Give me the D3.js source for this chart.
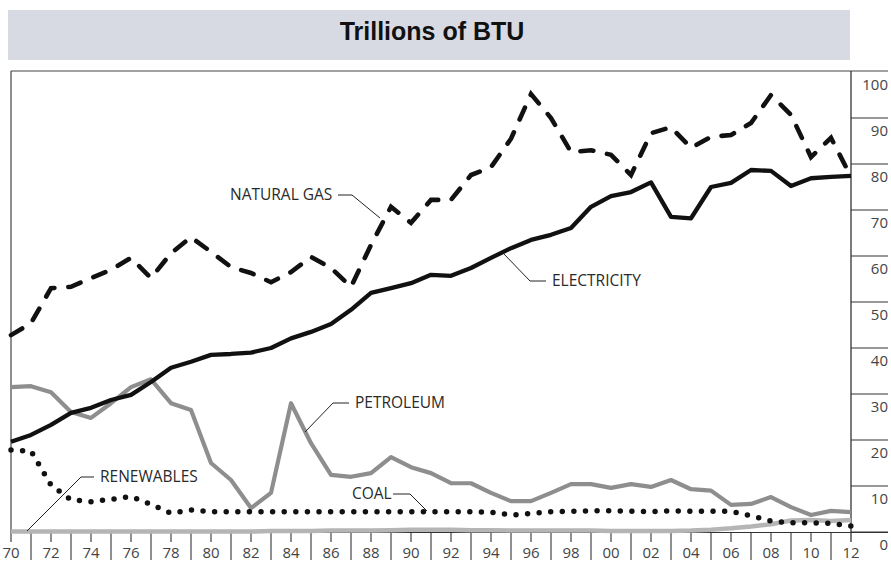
<!DOCTYPE html>
<html>
<head>
<meta charset="utf-8">
<script src="https://cdn.jsdelivr.net/npm/d3@7"></script>
<style>
  html, body { margin: 0; padding: 0; background: #fff; }
  #chart { width: 891px; height: 561px; }
  .tick-label { font-family: "Open Sans", "Noto Sans", sans-serif; font-size: 15px; fill: #444; }
  .series-label { font-family: "Open Sans", "Noto Sans", sans-serif; font-size: 15.5px; fill: #2a2a2a; }
</style>
</head>
<body>
<div id="chart"></div>
<script>
// years on the x axis
const years = d3.range(1970, 2013);
const xTickYears = [1970,1972,1974,1976,1978,1980,1982,1984,1986,1988,1990,
                    1992,1994,1996,1998,2000,2002,2004,2006,2008,2010,2012];
const yTicks = [0,10,20,30,40,50,60,70,80,90,100];

// trillions of BTU
const naturalGas = [42.8,45.4,53.0,53.3,55.2,57.0,59.6,55.2,60.6,64.1,
                    60.9,57.6,56.3,54.3,56.5,59.8,57.4,53.3,62.4,70.7,
                    67.2,72.2,72.2,77.6,79.3,85.5,95.2,90.0,82.6,83.0,
                    82.0,77.6,86.7,88.0,83.5,85.9,86.3,88.9,95.0,90.7,
                    81.5,85.7,77.2];
const electricity = [19.6,21.1,23.3,25.9,27.0,28.7,29.8,32.6,35.7,37.0,
                     38.5,38.7,39.0,40.0,42.1,43.5,45.2,48.3,52.0,53.0,
                     54.1,55.9,55.7,57.4,59.6,61.7,63.5,64.6,66.1,70.7,
                     73.0,73.9,76.0,68.5,68.2,75.0,75.9,78.7,78.5,75.2,
                     76.9,77.2,77.4];
const petroleum = [31.5,31.7,30.4,26.1,24.8,28.0,31.5,33.2,28.0,26.5,
                   15.0,11.3,5.2,8.5,28.0,19.3,12.4,12.0,12.8,16.3,
                   14.1,12.8,10.6,10.6,8.5,6.7,6.7,8.5,10.4,10.4,
                   9.6,10.4,9.8,11.3,9.3,9.0,5.9,6.1,7.6,5.4,
                   3.7,4.6,4.3];
const coal = [17.8,17.6,10.2,7.0,6.6,7.1,7.7,6.0,4.1,4.8,
              4.4,4.4,4.4,4.4,4.4,4.4,4.4,4.4,4.4,4.4,
              4.4,4.4,4.4,4.4,4.3,3.7,4.0,4.4,4.5,4.6,
              4.6,4.5,4.4,4.6,4.5,4.5,4.5,3.5,2.4,2.0,
              2.0,1.9,1.3];
const renewables = [0.1,0.1,0.1,0.1,0.1,0.1,0.1,0.1,0.1,0.1,
                    0.1,0.1,0.1,0.2,0.2,0.2,0.3,0.3,0.3,0.4,
                    0.5,0.5,0.5,0.4,0.4,0.3,0.3,0.3,0.3,0.3,
                    0.2,0.2,0.2,0.2,0.3,0.5,0.8,1.2,1.7,2.5,
                    2.6,2.4,2.6];

const W = 891, H = 561;
const svg = d3.select('#chart').append('svg')
  .attr('width', W).attr('height', H)
  .attr('viewBox', `0 0 ${W} ${H}`);

// title band
svg.append('rect')
  .attr('x', 8).attr('y', 10).attr('width', 842).attr('height', 50)
  .attr('fill', '#d8dae3');
svg.append('text')
  .attr('x', 432).attr('y', 40)
  .attr('text-anchor', 'middle')
  .style('font-family', '"Liberation Sans", Arial, sans-serif')
  .style('font-weight', 'bold')
  .style('font-size', '25px')
  .style('fill', '#111')
  .text('Trillions of BTU');

const x = d3.scaleLinear().domain([1970, 2012]).range([11, 851]);
const y = d3.scaleLinear().domain([0, 100]).range([532, 72]);

// frame: top and left
svg.append('line').attr('x1', 11).attr('x2', 888).attr('y1', 71).attr('y2', 71)
  .attr('stroke', '#444').attr('stroke-width', 1.2);
svg.append('line').attr('x1', 11).attr('x2', 11).attr('y1', 71).attr('y2', 542)
  .attr('stroke', '#444').attr('stroke-width', 1.2);

// right axis
const gy = svg.append('g');
gy.append('line').attr('x1', x(2012)).attr('x2', x(2012)).attr('y1', 71).attr('y2', 542)
  .attr('stroke', '#333').attr('stroke-width', 1.3);
gy.selectAll('.ytick').data(yTicks.filter(v => v < 100)).enter().append('line')
  .attr('x1', x(2012)).attr('x2', 888)
  .attr('y1', d => y(d)).attr('y2', d => y(d))
  .attr('stroke', '#333').attr('stroke-width', 1.1);
gy.selectAll('.ylab').data(yTicks).enter().append('text')
  .attr('class', 'tick-label')
  .attr('x', 888).attr('y', d => y(d) + 18)
  .attr('text-anchor', 'end')
  .text(d => d);

// bottom axis ticks
const gx = svg.append('g');
gx.selectAll('.xt').data(years.filter(d => d > 1970 && d < 2012)).enter().append('line')
  .attr('x1', d => x(d)).attr('x2', d => x(d))
  .attr('y1', 532).attr('y2', d => d % 2 ? 560 : 542)
  .attr('stroke', '#333').attr('stroke-width', 1.1);
gx.selectAll('.xl').data(xTickYears).enter().append('text')
  .attr('class', 'tick-label')
  .attr('x', d => x(d)).attr('y', 558)
  .attr('text-anchor', 'middle')
  .text(d => String(d % 100).padStart(2, '0'));

const line = vals => d3.line()
  .x((d, i) => x(years[i]))
  .y(d => y(d))(vals);

// renewables (drawn as the light base line)
svg.append('line').attr('x1', 11).attr('x2', 888).attr('y1', 532.5).attr('y2', 532.5)
  .attr('stroke', '#333').attr('stroke-width', 1.1);
svg.append('path').attr('d', line(renewables))
  .attr('fill', 'none').attr('stroke', '#b5b5b5').attr('stroke-width', 4.5)
  .attr('stroke-linejoin', 'round');

svg.append('path').attr('d', line(petroleum))
  .attr('fill', 'none').attr('stroke', '#8e8e8e').attr('stroke-width', 4.2)
  .attr('stroke-linejoin', 'round');

svg.append('path').attr('d', line(coal))
  .attr('fill', 'none').attr('stroke', '#111').attr('stroke-width', 5.5)
  .attr('stroke-linecap', 'round').attr('stroke-dasharray', '0 11.6');

svg.append('path').attr('d', line(electricity))
  .attr('fill', 'none').attr('stroke', '#111').attr('stroke-width', 4.3)
  .attr('stroke-linejoin', 'round');

svg.append('path').attr('d', line(naturalGas))
  .attr('fill', 'none').attr('stroke', '#111').attr('stroke-width', 4.6)
  .attr('stroke-linecap', 'round').attr('stroke-dasharray', '13 14');

// series labels with leader lines
const labels = [
  {text: 'NATURAL GAS', tx: 230, ty: 200, pts: [[338, 195], [352, 195], [380, 218]]},
  {text: 'ELECTRICITY', tx: 552, ty: 286, pts: [[546, 281], [530, 281], [503, 253]]},
  {text: 'PETROLEUM',   tx: 355, ty: 408, pts: [[349, 403], [333, 403], [305, 432]]},
  {text: 'RENEWABLES',  tx: 100, ty: 482, pts: [[94, 477], [81, 477], [27, 531]]},
  {text: 'COAL',        tx: 352, ty: 499, pts: [[393, 494], [410, 494], [427, 511]]}
];
labels.forEach(l => {
  svg.append('text').attr('class', 'series-label')
    .attr('x', l.tx).attr('y', l.ty).text(l.text);
  svg.append('path').attr('d', d3.line()(l.pts))
    .attr('fill', 'none').attr('stroke', '#222').attr('stroke-width', 1);
});
</script>
</body>
</html>
